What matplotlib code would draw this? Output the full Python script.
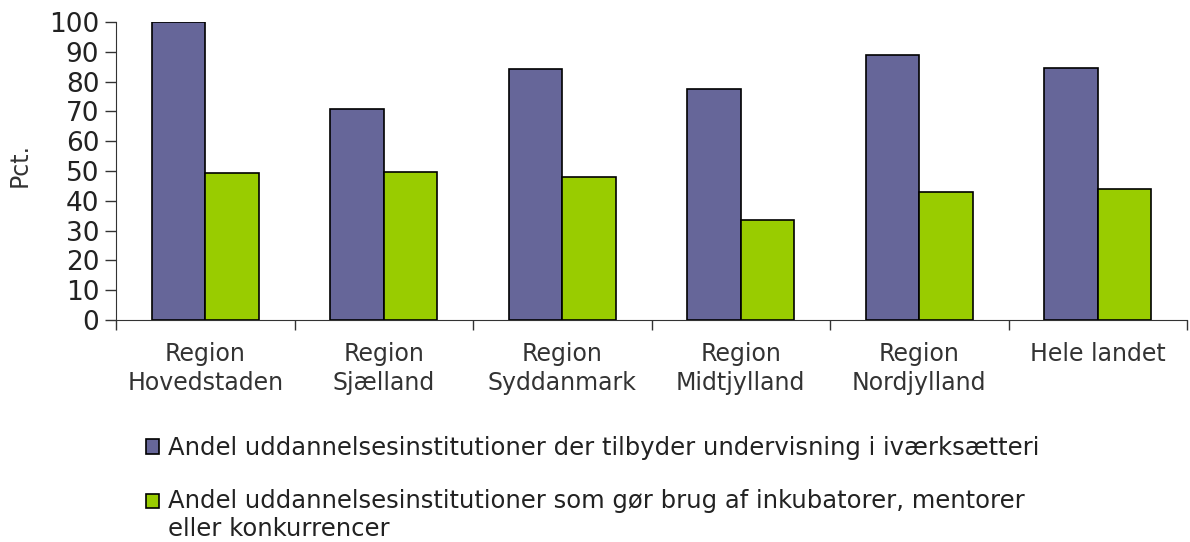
import matplotlib.pyplot as plt
from matplotlib.patches import Rectangle
from matplotlib.legend_handler import HandlerPatch
import numpy as np

regions = ['Region\nHovedstaden', 'Region\nSjælland', 'Region\nSyddanmark',
           'Region\nMidtjylland', 'Region\nNordjylland', 'Hele landet']
undervisning = [100, 70.8, 84.2, 77.4, 88.9, 84.7]
inkubatorer = [49.3, 49.7, 48.0, 33.4, 42.8, 43.9]

label1 = 'Andel uddannelsesinstitutioner der tilbyder undervisning i iværksætteri'
label2 = ('Andel uddannelsesinstitutioner som gør brug af inkubatorer, mentorer\n'
          'eller konkurrencer')

fig = plt.figure(figsize=(11.9, 5.42), dpi=100)
ax = fig.add_axes([0.0975, 0.41, 0.9, 0.549])

x = np.arange(len(regions))
w = 0.3
b1 = ax.bar(x - w / 2, undervisning, w, color='#666699', edgecolor='black', linewidth=1.2)
b2 = ax.bar(x + w / 2, inkubatorer, w, color='#99cc00', edgecolor='black', linewidth=1.2)

ax.set_xlim(-0.5, len(regions) - 0.5)
ax.set_ylim(0, 100)
ax.set_yticks(range(0, 101, 10))
ax.tick_params(axis='y', labelsize=19, length=8, width=1, pad=4, colors='#333333', labelcolor='#222222')

ax.set_xticks(x)
ax.set_xticklabels(regions, fontsize=17, linespacing=1.25, color='#333333')
ax.set_xticks(np.arange(-0.5, len(regions), 1), minor=True)
ax.tick_params(axis='x', which='major', length=0, pad=16)
ax.tick_params(axis='x', which='minor', length=7, width=1, colors='#333333')

for s in ['top', 'right']:
    ax.spines[s].set_visible(False)
for s in ['left', 'bottom']:
    ax.spines[s].set_color('#333333')

ax.set_ylabel('Pct.', fontsize=17, color='#333333')
ax.yaxis.set_label_coords(-0.079, 0.52)


# square aligned with the first line of a two-line label
def top_square(legend, orig_handle, xdescent, ydescent, width, height, fontsize):
    return Rectangle((-xdescent, -ydescent + 0.62 * fontsize), width, height)


h1, h2 = b1.patches[0], b2.patches[0]
fig.legend([h1, h2], [label1, label2], loc='upper left', bbox_to_anchor=(0.1145, 0.213), frameon=False,
           fontsize=17.5, handlelength=0.55, handleheight=0.55, handletextpad=0.35,
           labelspacing=1.2, borderaxespad=0, labelcolor='#222222',
           handler_map={h2: HandlerPatch(patch_func=top_square)})

fig.savefig('out.png', dpi=100)
